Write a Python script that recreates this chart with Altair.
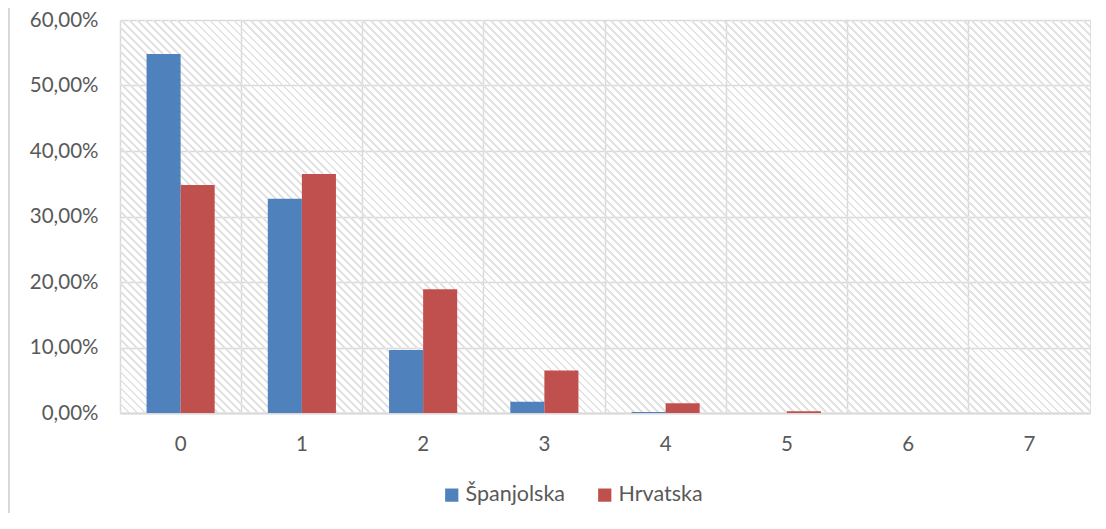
import altair as alt
import pandas as pd

categories = ["0", "1", "2", "3", "4", "5", "6", "7"]
series_names = ["Španjolska", "Hrvatska"]
spain = [54.8, 32.7, 9.6, 1.7, 0.15, 0.0, 0.0, 0.0]
croatia = [34.8, 36.5, 18.9, 6.5, 1.5, 0.25, 0.0, 0.0]
colors = ["#4f81bd", "#c0504d"]
y_ticks = [0, 10, 20, 30, 40, 50, 60]

W, H = 970, 393
FONT = "Lato"
TXT = "#595959"
GRID = "#d9d9d9"

rows = []
for i, c in enumerate(categories):
    rows.append({"cat": c, "series": series_names[0], "value": spain[i]})
    rows.append({"cat": c, "series": series_names[1], "value": croatia[i]})
df = pd.DataFrame(rows)

# diagonal hatch background (style only) built as a striped linear gradient
n_stripes = 170
HATCH = "#e3e3e3"
CLEAR = "rgba(255,255,255,0)"
stops = []
for k in range(n_stripes):
    a = k / n_stripes
    b = (k + 0.36) / n_stripes
    e = (k + 1) / n_stripes
    stops += [
        alt.GradientStop(color=HATCH, offset=a),
        alt.GradientStop(color=HATCH, offset=b),
        alt.GradientStop(color=CLEAR, offset=b),
        alt.GradientStop(color=CLEAR, offset=e),
    ]
s = (W + H) / (W * W + H * H)
hatch_grad = alt.LinearGradient(
    gradient="linear", stops=stops, x1=0, y1=1, x2=s * W, y2=1 - s * H
)

hatch = alt.Chart(pd.DataFrame({"k": [0]})).mark_rect(fill=hatch_grad).encode(
    x=alt.value(0), x2=alt.value(W), y=alt.value(0), y2=alt.value(H)
)

border = alt.Chart(pd.DataFrame({"k": [0]})).mark_rule(
    color=GRID, strokeWidth=2
).encode(x=alt.value(-111), y=alt.value(-21), y2=alt.value(520))

bars = alt.Chart(df).mark_bar(strokeWidth=0).encode(
    x=alt.X(
        "cat:N",
        sort=categories,
        title=None,
        scale=alt.Scale(paddingInner=0, paddingOuter=0),
        axis=alt.Axis(
            labelAngle=0,
            ticks=False,
            grid=True,
            gridColor=GRID,
            gridWidth=1.5,
            bandPosition=0,
            domainColor=GRID,
            domainWidth=2,
            labelFont=FONT,
            labelFontSize=20.5,
            labelColor=TXT,
            labelPadding=21,
        ),
    ),
    xOffset=alt.XOffset(
        "series:N",
        sort=series_names,
        scale=alt.Scale(paddingInner=0, paddingOuter=0.78),
    ),
    y=alt.Y(
        "value:Q",
        title=None,
        scale=alt.Scale(domain=[0, 60], nice=False),
        axis=alt.Axis(
            values=y_ticks,
            labelExpr="replace(format(datum.value, '.2f'), '.', ',') + '%'",
            ticks=False,
            domain=False,
            grid=True,
            gridColor=GRID,
            gridWidth=1.5,
            labelFont=FONT,
            labelFontSize=20.5,
            labelColor=TXT,
            labelPadding=22,
        ),
    ),
    color=alt.Color(
        "series:N",
        sort=series_names,
        scale=alt.Scale(domain=series_names, range=colors),
        legend=alt.Legend(
            title=None,
            orient="none",
            legendX=321,
            legendY=464,
            direction="horizontal",
            symbolType="square",
            symbolSize=175,
            symbolStrokeWidth=0,
            labelFont=FONT,
            labelFontSize=21.5,
            labelColor=TXT,
            labelOffset=3,
            columnPadding=28,
        ),
    ),
)

chart = (
    alt.layer(hatch, border, bars)
    .properties(
        width=W,
        height=H,
        autosize=alt.AutoSizeParams(type="none"),
        padding={"left": 112, "top": 12, "right": 8, "bottom": 100},
    )
    .configure_view(stroke=GRID, strokeWidth=1.5)
    .configure(background="white")
)

chart.save("out.html", embed_options={"renderer": "svg", "actions": False})
